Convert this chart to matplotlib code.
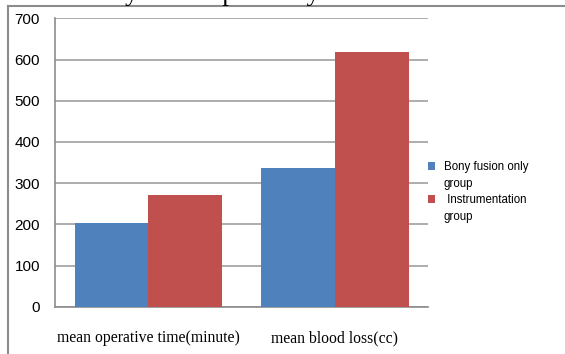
import matplotlib.pyplot as plt
from matplotlib.lines import Line2D
from matplotlib.patches import Rectangle
from matplotlib.legend_handler import HandlerPatch
import numpy as np

categories = ['mean operative time(minute)', 'mean blood loss(cc)']
series_names = ['Bony fusion only\ngroup', ' Instrumentation\ngroup']
bony_fusion = [202, 337]
instrumentation = [270, 617]
y_ticks = [0, 100, 200, 300, 400, 500, 600, 700]
caption = 've mean days of hospital stay.'

blue = '#4F81BD'
red = '#C0504D'
gray = '#8C8C8C'


def squareAtFirstLine(legend, orig_handle, xdescent, ydescent, width, height, fontsize):
    # push the little square up so it sits next to the first line of the label
    return Rectangle((-xdescent, -ydescent + 0.85 * fontsize), width, height)


fig = plt.figure(figsize=(5.65, 3.54), dpi=100)
ax = fig.add_axes([55 / 565, 1 - 306.7 / 354, (428.3 - 55) / 565, (306.7 - 18.3) / 354])

x = np.arange(len(categories))
width = 0.395
b1 = ax.bar(x - width / 2, bony_fusion, width, color=blue, zorder=3)
b2 = ax.bar(x + width / 2, instrumentation, width, color=red, zorder=3)

ax.set_xlim(-0.5, len(categories) - 0.5)
ax.set_ylim(0, 700)
ax.set_yticks(y_ticks)
ax.set_yticklabels([str(v) for v in y_ticks], fontfamily='Liberation Sans', fontsize=11)
ax.set_xticks(x)
ax.set_xticklabels(categories, fontfamily='Liberation Serif', fontsize=11.3)
ax.tick_params(axis='y', length=0, pad=10.8)
ax.tick_params(axis='x', length=0, pad=17)
ax.grid(axis='y', color='#A0A0A0', linewidth=1.2, zorder=0)
for side in ['top', 'right']:
    ax.spines[side].set_visible(False)
for side in ['left', 'bottom']:
    ax.spines[side].set_color(gray)
    ax.spines[side].set_linewidth(1.2)

leg = fig.legend(handles=[b1.patches[0], b2.patches[0]], labels=series_names,
                 loc='upper left', bbox_to_anchor=(428 / 565, 1 - 161 / 354),
                 frameon=False, prop={'family': 'Liberation Sans', 'size': 8.3},
                 handlelength=0.62, handleheight=0.62, handletextpad=0.75,
                 labelspacing=0.4, borderpad=0, borderaxespad=0,
                 handler_map={Rectangle: HandlerPatch(patch_func=squareAtFirstLine)})
for t in leg.get_texts():
    t.set_linespacing(1.5)

# outer frame of the pasted chart
fig.add_artist(Line2D([7.5 / 565, 7.5 / 565], [0, 1 - 5.5 / 354], color=gray, linewidth=1.5))
fig.add_artist(Line2D([7.5 / 565, 1], [1 - 5.5 / 354, 1 - 5.5 / 354], color=gray, linewidth=1.5))

# caption line of the page, cut off by the crop
fig.text(3 / 565, 1 - 0.5 / 354, caption, fontfamily='Liberation Serif', fontsize=19.4,
         va='baseline', ha='left')

plt.savefig('out.png', dpi=100)
